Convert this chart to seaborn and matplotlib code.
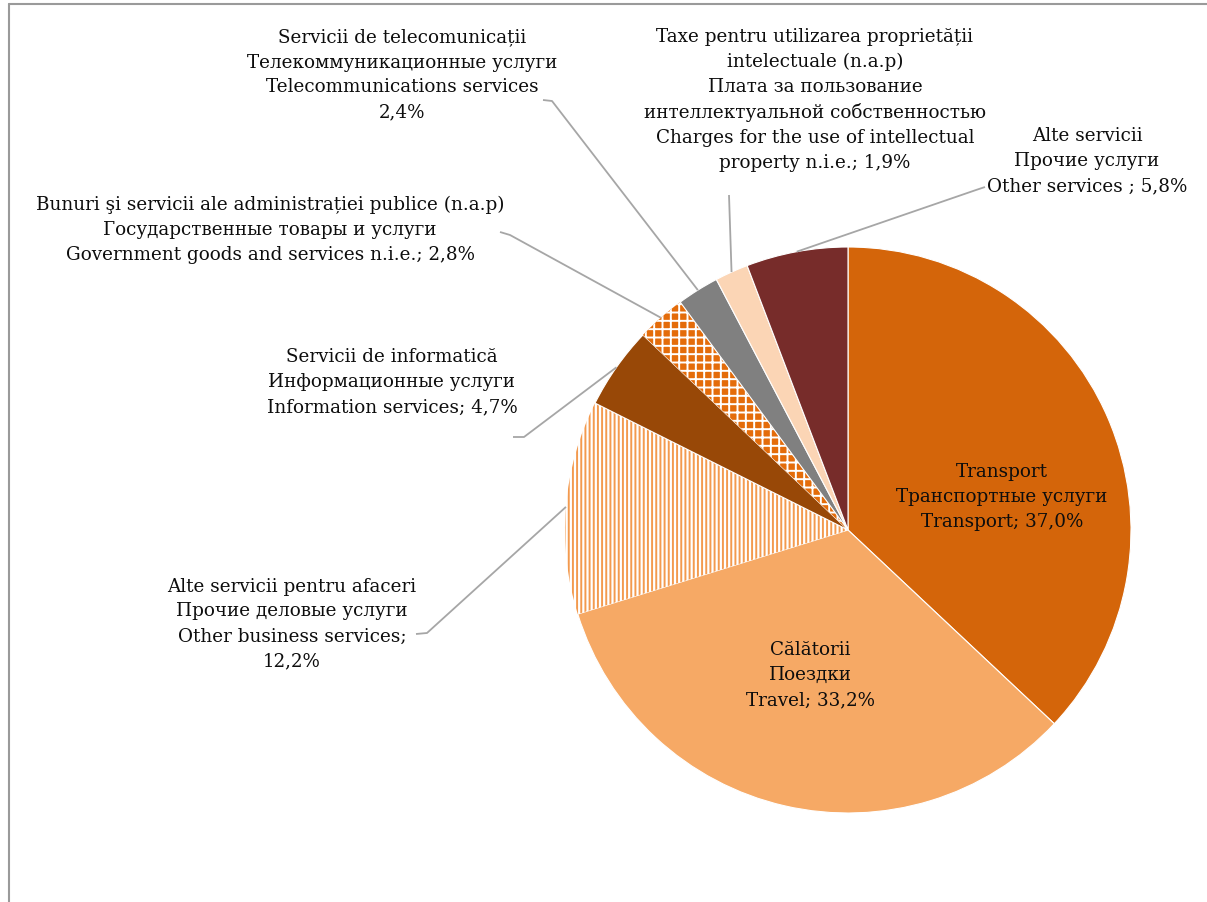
import matplotlib
matplotlib.use("Agg")
import matplotlib.pyplot as plt
import seaborn as sns
import numpy as np

# ---------------- data ----------------
categories = [
    "Transport\nТранспортные услуги\nTransport; 37,0%",
    "Călătorii\nПоездки\nTravel; 33,2%",
    "Alte servicii pentru afaceri\nПрочие деловые услуги\nOther business services;\n12,2%",
    "Servicii de informatică\nИнформационные услуги\nInformation services; 4,7%",
    "Bunuri şi servicii ale administrației publice (n.a.p)\nГосударственные товары и услуги\nGovernment goods and services n.i.e.; 2,8%",
    "Servicii de telecomunicații\nТелекоммуникационные услуги\nTelecommunications services\n2,4%",
    "Taxe pentru utilizarea proprietății\nintelectuale (n.a.p)\nПлата за пользование\nинтеллектуальной собственностью\nCharges for the use of intellectual\nproperty n.i.e.; 1,9%",
    "Alte servicii\nПрочие услуги\nOther services ; 5,8%",
]
shares = [37.0, 33.2, 12.2, 4.7, 2.8, 2.4, 1.9, 5.8]
colors = ["#D4650A", "#F6A965", "#F6A965", "#984807", "#E46C0A", "#808080", "#FBD5B5", "#772C2A"]

# ---------------- style ----------------
sns.set_theme(style="white")
plt.rcParams["font.family"] = ["DejaVu Serif", "Liberation Serif"]
plt.rcParams["hatch.linewidth"] = 1.4

W, H = 1207, 902
fig = plt.figure(figsize=(W / 100, H / 100), dpi=100)
ax = fig.add_axes([0, 0, 1, 1])

def px(x, y):
    return (x, H - y)

cx, cy = px(848, 530)
R = 283

wedges, _ = ax.pie(shares, colors=colors, startangle=90, counterclock=False,
                   center=(cx, cy), radius=R,
                   wedgeprops=dict(edgecolor="white", linewidth=0.8))
ax.set_xlim(0, W)
ax.set_ylim(0, H)
ax.set_aspect("auto")
ax.axis("off")

# patterned slices
wedges[2].set_facecolor("white")
wedges[2].set_edgecolor("#F39A4E")
wedges[2].set_hatch("||||")
wedges[2].set_linewidth(0)
wedges[4].set_facecolor("#E46C0A")
wedges[4].set_edgecolor("white")
wedges[4].set_hatch("++")
wedges[4].set_linewidth(0)

txt_color = "#0D0D0D"
fs = 13.2

# label centers (layout)
label_pos = [
    (1002, 497), (810, 675), (292, 624), (392, 382),
    (270, 230), (402, 75), (815, 100), (1087, 161),
]
for lab, (x, y) in zip(categories, label_pos):
    ax.text(*px(x, y), lab, ha="center", va="center", fontsize=fs,
            color=txt_color, linespacing=1.5)

# leader lines: from label to wedge edge at mid-angle
leader_start = {
    2: [(416, 634), (427, 633)],
    3: [(513, 437), (524, 437)],
    4: [(500, 232), (510, 235)],
    5: [(543, 100), (552, 101)],
    6: [(729, 195)],
    7: [(985, 187), (976, 190)],
}
for i, pts in leader_start.items():
    w = wedges[i]
    ang = np.deg2rad((w.theta1 + w.theta2) / 2)
    ex = cx + R * np.cos(ang)
    ey = cy + R * np.sin(ang)
    xs = [px(*p)[0] for p in pts] + [ex]
    ys = [px(*p)[1] for p in pts] + [ey]
    ax.plot(xs, ys, color="#A6A6A6", lw=1.3, solid_capstyle="butt")

# chart frame
ax.plot([px(9, 4)[0], W], [px(9, 4)[1], px(9, 4)[1]], color="#9A9A9A", lw=1.5)
ax.plot([px(9, 4)[0], px(9, 4)[0]], [px(9, 4)[1], 0], color="#9A9A9A", lw=1.5)

fig.savefig("out.png", dpi=100)
